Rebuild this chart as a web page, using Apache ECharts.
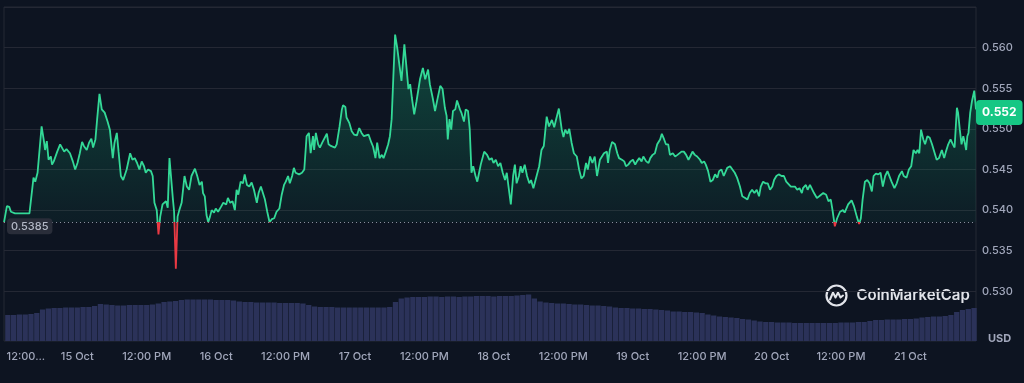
<!DOCTYPE html>
<html>
<head>
<meta charset="utf-8">
<script src="https://cdn.jsdelivr.net/npm/echarts@6/dist/echarts.min.js"></script>
<style>
  html, body { margin: 0; padding: 0; background: #0d1421; }
  #chart { width: 1024px; height: 383px; }
</style>
</head>
<body>
<div id="chart"></div>
<script>
// ---- time frame (hours since 14 Oct 00:00) ----
const START_HOUR = 11 + 20 / 60;      // first sample: 14 Oct 11:20
const SPAN_HOURS = 168;               // 7 days
const END_HOUR = START_HOUR + SPAN_HOURS;

// ---- x axis ticks (hours since 14 Oct 00:00) and labels ----
const xTickHours = [12, 24, 36, 48, 60, 72, 84, 96, 108, 120, 132, 144, 156, 168];
const xTickLabels = ['12:00...', '15 Oct', '12:00 PM', '16 Oct', '12:00 PM', '17 Oct', '12:00 PM',
  '18 Oct', '12:00 PM', '19 Oct', '12:00 PM', '20 Oct', '12:00 PM', '21 Oct'];

// ---- y axis ----
const priceMin = 0.525, priceMax = 0.565, priceStep = 0.005;
const currencyLabel = 'USD';

// ---- price series: hours after first sample, price in USD ----
const priceHours = [
  0.0,0.5,0.9,1.2,1.9,4.4,5.1,5.4,5.8,6.5,6.9,7.1,7.4,7.7,8.1,8.3,8.6,8.9,9.2,9.7,
  10.0,10.4,10.8,11.4,11.9,12.3,12.7,13.1,13.5,13.8,14.3,14.7,15.1,15.4,15.8,16.1,16.5,16.7,16.9,17.4,
  17.9,18.3,18.8,19.1,19.5,19.8,20.2,20.6,21.2,21.8,22.2,22.6,23.0,23.4,23.8,24.2,24.5,24.9,25.4,25.7,
  26.0,26.4,26.7,27.0,27.4,27.7,28.0,28.3,28.6,28.9,29.2,29.4,29.7,30.0,30.3,30.7,31.2,31.6,32.0,32.4,
  33.0,33.4,33.8,34.2,34.4,34.7,35.0,35.3,35.6,35.9,36.3,36.6,37.0,37.5,37.9,38.4,38.7,39.1,39.5,39.9,
  40.2,40.5,40.9,41.3,41.6,42.0,42.4,42.8,43.2,43.7,44.0,44.4,44.7,45.1,45.5,45.9,46.3,46.7,47.1,47.6,
  48.0,48.4,48.7,49.1,49.4,49.8,50.1,50.4,50.7,51.0,51.5,51.9,52.3,52.7,53.0,53.4,53.6,53.9,54.3,54.6,
  55.0,55.3,55.8,56.1,56.5,56.8,57.2,57.5,58.0,58.4,58.6,59.0,59.2,59.7,60.1,60.5,61.0,61.4,61.8,62.2,
  63.0,63.5,63.8,64.2,64.5,64.9,65.3,65.6,66.0,66.4,66.7,67.0,67.3,67.6,68.0,68.3,68.7,69.2,69.6,69.9,
  70.2,70.5,70.9,71.3,71.6,71.9,72.4,72.8,73.3,73.6,74.1,74.5,74.9,75.4,75.8,76.2,76.5,76.7,77.0,77.3,
  77.6,78.0,78.3,78.8,79.1,79.5,79.8,80.2,80.5,80.8,81.1,81.5,81.8,82.0,82.4,83.0,83.5,83.9,84.3,84.6,
  85.0,85.4,85.8,86.2,86.6,86.9,87.2,87.6,88.0,88.3,88.6,89.0,89.3,89.6,90.0,90.4,90.8,91.1,91.5,91.8,
  92.2,92.5,92.9,93.3,93.8,94.2,94.7,95.1,95.4,95.9,96.4,96.7,97.0,97.4,97.7,98.1,98.5,99.0,99.4,99.8,
  100.2,100.6,100.9,101.3,101.7,102.1,102.5,103.0,103.7,104.2,104.4,104.7,105.1,105.6,106.0,106.3,106.8,107.2,107.5,107.9,
  108.3,108.7,109.1,109.4,109.8,110.2,110.5,111.0,111.4,111.7,112.1,112.5,112.9,113.4,113.7,114.1,114.4,114.8,115.1,115.6,
  116.0,116.4,116.7,117.1,117.5,117.9,118.3,118.6,119.0,119.4,119.8,120.3,120.6,121.0,121.3,121.7,122.1,122.5,122.9,123.3,
  123.6,124.0,124.4,125.0,125.5,125.9,126.3,126.7,127.2,127.6,128.1,128.5,128.9,129.3,129.7,130.1,130.5,130.8,131.2,131.6,
  132.0,132.4,132.8,133.1,133.5,133.9,134.4,134.8,135.2,135.5,136.0,136.3,136.7,137.1,137.5,137.9,138.1,138.6,138.9,139.3,
  139.6,140.0,140.5,140.9,141.2,141.6,142.1,142.5,142.9,143.2,143.6,144.0,144.5,145.0,145.3,145.9,146.5,146.9,147.4,147.8,
  148.1,148.4,148.8,149.2,149.6,150.0,150.3,150.7,151.1,151.5,151.9,152.3,152.7,153.0,153.4,153.9,154.3,154.7,155.2,155.5,
  156.0,156.4,156.8,157.2,157.6,157.9,158.2,158.5,158.9,159.2,159.6,160.0,160.4,160.7,161.2,161.6,162.1,162.5,162.8,163.2,
  163.6,164.0,164.3,164.7,164.9,165.2,165.5,165.8,166.0,166.3,166.5,166.7,167.0,167.3,167.7,168.0
];
const priceValues = [
  0.5385,0.5405,0.5404,0.5398,0.5396,0.5396,0.5440,0.5435,0.5446,0.5503,0.5485,0.5474,0.5485,0.5462,0.5466,0.5456,0.5460,0.5458,0.5472,0.5481,
  0.5483,0.5472,0.5475,0.5470,0.5460,0.5450,0.5458,0.5470,0.5484,0.5479,0.5474,0.5483,0.5488,0.5477,0.5487,0.5512,0.5543,0.5542,0.5524,0.5520,
  0.5509,0.5499,0.5464,0.5483,0.5495,0.5472,0.5442,0.5437,0.5450,0.5470,0.5462,0.5464,0.5458,0.5450,0.5460,0.5454,0.5446,0.5450,0.5448,0.5442,
  0.5409,0.5400,0.5370,0.5392,0.5407,0.5405,0.5411,0.5403,0.5464,0.5462,0.5413,0.5398,0.5328,0.5392,0.5400,0.5409,0.5442,0.5429,0.5425,0.5442,
  0.5451,0.5442,0.5431,0.5435,0.5421,0.5417,0.5394,0.5385,0.5392,0.5400,0.5397,0.5402,0.5398,0.5404,0.5409,0.5407,0.5415,0.5409,0.5411,0.5400,
  0.5425,0.5419,0.5435,0.5433,0.5444,0.5431,0.5429,0.5434,0.5425,0.5409,0.5421,0.5429,0.5431,0.5413,0.5398,0.5385,0.5389,0.5390,0.5398,0.5402,
  0.5419,0.5431,0.5435,0.5442,0.5433,0.5442,0.5452,0.5446,0.5448,0.5444,0.5446,0.5450,0.5491,0.5495,0.5470,0.5491,0.5474,0.5495,0.5481,0.5477,
  0.5483,0.5481,0.5494,0.5481,0.5479,0.5481,0.5477,0.5481,0.5503,0.5524,0.5529,0.5527,0.5514,0.5507,0.5497,0.5493,0.5492,0.5501,0.5495,0.5491,
  0.5493,0.5483,0.5478,0.5464,0.5483,0.5464,0.5468,0.5464,0.5472,0.5481,0.5491,0.5512,0.5565,0.5616,0.5598,0.5581,0.5559,0.5604,0.5573,0.5549,
  0.5555,0.5538,0.5518,0.5534,0.5536,0.5561,0.5575,0.5561,0.5573,0.5555,0.5538,0.5522,0.5536,0.5553,0.5549,0.5526,0.5516,0.5487,0.5512,0.5499,
  0.5522,0.5524,0.5535,0.5524,0.5519,0.5509,0.5524,0.5522,0.5499,0.5446,0.5454,0.5442,0.5435,0.5442,0.5456,0.5472,0.5468,0.5462,0.5464,0.5458,
  0.5462,0.5454,0.5458,0.5446,0.5437,0.5446,0.5429,0.5407,0.5442,0.5456,0.5433,0.5442,0.5454,0.5446,0.5456,0.5442,0.5433,0.5437,0.5427,0.5429,
  0.5446,0.5454,0.5474,0.5479,0.5515,0.5503,0.5511,0.5502,0.5511,0.5525,0.5499,0.5490,0.5499,0.5494,0.5500,0.5483,0.5470,0.5466,0.5450,0.5439,
  0.5442,0.5458,0.5450,0.5466,0.5458,0.5466,0.5442,0.5462,0.5470,0.5472,0.5458,0.5474,0.5484,0.5481,0.5470,0.5464,0.5462,0.5460,0.5454,0.5456,
  0.5460,0.5462,0.5456,0.5460,0.5464,0.5460,0.5466,0.5460,0.5458,0.5464,0.5468,0.5470,0.5481,0.5487,0.5494,0.5487,0.5481,0.5481,0.5468,0.5470,
  0.5466,0.5468,0.5468,0.5472,0.5472,0.5468,0.5462,0.5466,0.5472,0.5468,0.5466,0.5462,0.5458,0.5460,0.5456,0.5448,0.5435,0.5437,0.5444,0.5440,
  0.5448,0.5450,0.5442,0.5452,0.5454,0.5450,0.5446,0.5440,0.5429,0.5417,0.5415,0.5413,0.5421,0.5425,0.5421,0.5425,0.5417,0.5429,0.5435,0.5433,
  0.5433,0.5425,0.5429,0.5437,0.5442,0.5444,0.5442,0.5442,0.5435,0.5433,0.5429,0.5431,0.5429,0.5425,0.5427,0.5421,0.5427,0.5431,0.5425,0.5431,
  0.5429,0.5421,0.5415,0.5417,0.5419,0.5421,0.5419,0.5411,0.5413,0.5400,0.5380,0.5390,0.5398,0.5400,0.5397,0.5407,0.5412,0.5405,0.5392,0.5383,
  0.5390,0.5413,0.5435,0.5437,0.5433,0.5423,0.5442,0.5445,0.5444,0.5446,0.5429,0.5442,0.5448,0.5446,0.5435,0.5427,0.5433,0.5442,0.5448,0.5442,
  0.5440,0.5450,0.5454,0.5474,0.5470,0.5474,0.5470,0.5499,0.5487,0.5481,0.5491,0.5489,0.5481,0.5481,0.5462,0.5464,0.5474,0.5464,0.5472,0.5481,
  0.5487,0.5481,0.5477,0.5526,0.5520,0.5499,0.5481,0.5491,0.5485,0.5474,0.5491,0.5495,0.5520,0.5534,0.5547,0.5524
];

// ---- volume: hourly bars starting 14 Oct 12:00 (millions USD, relative) ----
const volumeFirstHour = 12;
const volumeValues = [
  104,104,106,106,108,112,126,130,132,132,134,134,134,136,136,140,148,146,144,142,
  142,144,144,144,144,146,150,156,158,160,164,166,166,166,166,166,164,164,164,162,
  158,156,156,154,154,154,154,152,152,152,152,150,144,138,136,136,136,134,134,134,
  134,134,134,134,134,134,136,156,170,174,176,176,176,178,178,176,178,178,176,178,
  178,180,180,180,178,180,180,180,182,184,186,170,158,154,152,150,150,148,146,146,
  144,142,142,140,138,134,132,132,130,130,128,128,126,124,122,118,118,116,116,114,
  112,106,102,98,96,94,92,88,86,82,78,76,76,74,74,74,72,72,72,72,
  72,72,72,72,74,74,74,76,76,80,84,84,86,86,86,88,88,90,94,96,
  98,98,100,104,116,124,128,132
];
const volumeMax = 240;

// ---- derived ----
const openPrice = priceValues[0];
const lastPrice = priceValues[priceValues.length - 1];
const priceData = priceHours.map((h, i) => [START_HOUR + h, priceValues[i]]);
const volumeData = volumeValues.map((v, i) => [volumeFirstHour + i, v]);

const GREEN = '#33d997';
const RED = '#ea3943';
const GRID_LINE = '#242834';
const LABEL = '#a1a7bb';
const FONT = 'Inter, "Noto Sans", sans-serif';

const chart = echarts.init(document.getElementById('chart'), null, { renderer: 'canvas' });

const option = {
  backgroundColor: '#0d1421',
  animation: false,
  textStyle: { fontFamily: FONT },
  grid: [
    { left: 4, right: 48, top: 7, height: 325 },
    { left: 4, right: 48, top: 281, height: 60 },
    { left: 4, right: 48, top: 7, height: 334, show: true, borderColor: GRID_LINE, borderWidth: 1, backgroundColor: 'transparent' }
  ],
  xAxis: [
    { type: 'value', gridIndex: 0, min: START_HOUR, max: END_HOUR, show: false },
    {
      type: 'value', gridIndex: 1, min: START_HOUR, max: END_HOUR,
      axisLine: { show: false }, axisTick: { show: false }, splitLine: { show: false },
      axisLabel: {
        customValues: xTickHours,
        color: LABEL, fontSize: 11, fontWeight: 500, fontFamily: FONT, margin: 10,
        formatter: function (v) {
          const i = xTickHours.indexOf(v);
          if (i < 0) return '';
          return i === 0 ? '{first|' + xTickLabels[i] + '}' : xTickLabels[i];
        },
        rich: { first: { padding: [0, 0, 0, 36], color: LABEL, fontSize: 11, fontWeight: 500, fontFamily: FONT } }
      }
    },
    { type: 'value', gridIndex: 2, min: 0, max: 1, show: false }
  ],
  yAxis: [
    {
      type: 'value', gridIndex: 0, position: 'right',
      min: priceMin, max: priceMax, interval: priceStep,
      axisLine: { show: false }, axisTick: { show: false },
      axisLabel: {
        color: LABEL, fontSize: 11, fontWeight: 500, fontFamily: FONT, margin: 6,
        showMinLabel: false, showMaxLabel: false,
        formatter: v => v.toFixed(3)
      },
      splitLine: { showMinLine: false, lineStyle: { color: GRID_LINE, width: 1 } }
    },
    { type: 'value', gridIndex: 1, min: 0, max: volumeMax, show: false },
    { type: 'value', gridIndex: 2, min: 0, max: 1, show: false }
  ],
  visualMap: {
    show: false, type: 'piecewise', seriesIndex: 0, dimension: 1,
    pieces: [
      { gte: 0, lt: openPrice, color: RED },
      { gte: openPrice, lte: 10, color: GREEN }
    ]
  },
  graphic: [
    {
      type: 'text', left: 988, top: 333, silent: true,
      style: { text: currencyLabel, fill: LABEL, font: 'bold 11px ' + FONT }
    },
    {
      type: 'group', left: 824, top: 283, silent: true,
      children: [
        { type: 'circle', shape: { cx: 11, cy: 11, r: 10 }, style: { fill: 'none', stroke: '#e2e4ea', lineWidth: 2.2 } },
        { type: 'polyline', shape: { points: [[4.5, 15], [7.5, 8], [10, 13], [12.5, 8], [15, 13], [17.5, 11]] },
          style: { fill: 'none', stroke: '#e2e4ea', lineWidth: 2, lineJoin: 'round', lineCap: 'round' } },
        { type: 'text', x: 31, y: 3, style: { text: 'CoinMarketCap', fill: '#e2e4ea', font: '600 15px ' + FONT } }
      ]
    }
  ],
  series: [
    {
      name: 'Price', type: 'line', xAxisIndex: 0, yAxisIndex: 0,
      data: priceData, showSymbol: false, symbol: 'none', z: 3,
      lineStyle: { width: 1.8 },
      areaStyle: {
        origin: openPrice,
        color: new echarts.graphic.LinearGradient(0, 0, 0, 1, [
          { offset: 0, color: 'rgba(22,199,132,0.42)' },
          { offset: 0.75, color: 'rgba(22,199,132,0.09)' },
          { offset: 1, color: 'rgba(22,199,132,0.03)' }
        ])
      },
      markLine: {
        silent: true, symbol: 'none', precision: 4,
        label: { show: false },
        lineStyle: { color: '#8a8f9e', type: [1, 3], width: 1 },
        data: [{ yAxis: openPrice }]
      },
      markPoint: {
        silent: true, symbol: 'circle', symbolSize: 0,
        data: [
          {
            coord: [START_HOUR, openPrice], value: openPrice,
            label: {
              show: true, position: 'right', distance: 3, offset: [0, 4],
              formatter: () => openPrice.toFixed(4),
              color: '#b4b9c7', fontSize: 11, fontWeight: 500, fontFamily: FONT,
              backgroundColor: '#292d39', padding: [3, 4, 2, 4], borderRadius: 4
            }
          },
          {
            coord: [END_HOUR, lastPrice], value: lastPrice,
            label: {
              show: true, position: 'right', distance: 0, offset: [0, 3],
              formatter: () => lastPrice.toFixed(3),
              color: '#ffffff', fontSize: 12, fontWeight: 'bold', fontFamily: FONT,
              backgroundColor: '#16c784', padding: [7, 6, 6, 6], borderRadius: 4
            }
          }
        ]
      }
    },
    {
      name: 'Volume', type: 'bar', xAxisIndex: 1, yAxisIndex: 1,
      data: volumeData, barWidth: 5.3, z: 1,
      itemStyle: { color: '#2b3259' }
    }
  ]
};

chart.setOption(option);
</script>
</body>
</html>
